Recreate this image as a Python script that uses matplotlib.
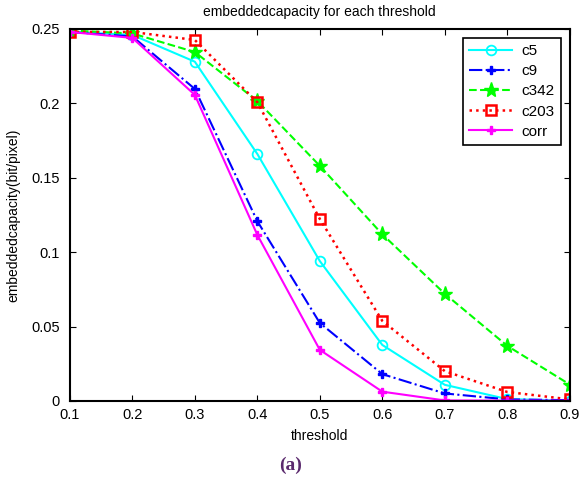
import numpy as np
import matplotlib
matplotlib.use("Agg")
import matplotlib.pyplot as plt

plt.rcParams['font.family'] = ['Liberation Sans', 'DejaVu Sans']

threshold = [0.1, 0.2, 0.3, 0.4, 0.5, 0.6, 0.7, 0.8, 0.9]
c5 = [0.248, 0.246, 0.228, 0.166, 0.094, 0.0376, 0.0108, 0.0012, 0.0002]
c9 = [0.248, 0.245, 0.2097, 0.1208, 0.0524, 0.018, 0.005, 0.001, 0.0005]
c342 = [0.249, 0.247, 0.2345, 0.2016, 0.158, 0.112, 0.072, 0.037, 0.011]
c203 = [0.248, 0.248, 0.2426, 0.2008, 0.1223, 0.0538, 0.02, 0.006, 0.001]
corr = [0.248, 0.244, 0.2057, 0.1116, 0.0343, 0.0062, 0.0003, 0.0002, 0.0001]

fig = plt.figure(figsize=(5.82, 4.83), dpi=100)
ax = fig.add_axes([0.120, 0.170, 0.859, 0.770])

ax.plot(threshold, c5, color='#00ffff', ls='-', lw=1.5, marker='o',
        ms=7, mfc='none', mew=1.3, label='c5')
ax.plot(threshold, c9, color='#0000ff', ls='-.', lw=1.5, marker='P',
        ms=6, label='c9')
ax.plot(threshold, c342, color='#00ff00', ls='--', lw=1.5, marker='*',
        ms=11, label='c342')
ax.plot(threshold, c203, color='#ff0000', ls=':', lw=1.8, marker='s',
        ms=7, mfc='none', mew=1.8, label='c203')
ax.plot(threshold, corr, color='#ff00ff', ls='-', lw=1.5, marker='P',
        ms=6, label='corr')

ax.set_xlim(0.1, 0.9)
ax.set_ylim(0, 0.25)
ax.set_xticks(threshold)
ax.set_xticklabels(['0.1', '0.2', '0.3', '0.4', '0.5', '0.6', '0.7', '0.8', '0.9'])
ax.set_yticks([0, 0.05, 0.1, 0.15, 0.2, 0.25])
ax.set_yticklabels(['0', '0.05', '0.1', '0.15', '0.2', '0.25'])
ax.tick_params(direction='in', top=True, right=True, labelsize=10.5, length=4)
ax.tick_params(axis='y', pad=7)
ax.tick_params(axis='x', pad=5)
for s in ax.spines.values():
    s.set_linewidth(1.5)

ax.set_title('embeddedcapacity for each threshold', fontsize=10, pad=9)
ax.set_xlabel('threshold', fontsize=10, labelpad=5)
ax.set_ylabel('embeddedcapacity(bit/pixel)', fontsize=10, labelpad=8)

leg = ax.legend(loc='upper right', fontsize=11, fancybox=False,
                edgecolor='black', framealpha=1, borderaxespad=0.6,
                handlelength=2.8, labelspacing=0.4, borderpad=0.4,
                handletextpad=0.6)
leg.get_frame().set_linewidth(1.2)

fig.text(0.5, 0.037, '(a)', ha='center', va='center', fontsize=14,
         fontweight='bold', family='Liberation Serif', color='#5b2a6e')

fig.savefig('out.png', dpi=100)
